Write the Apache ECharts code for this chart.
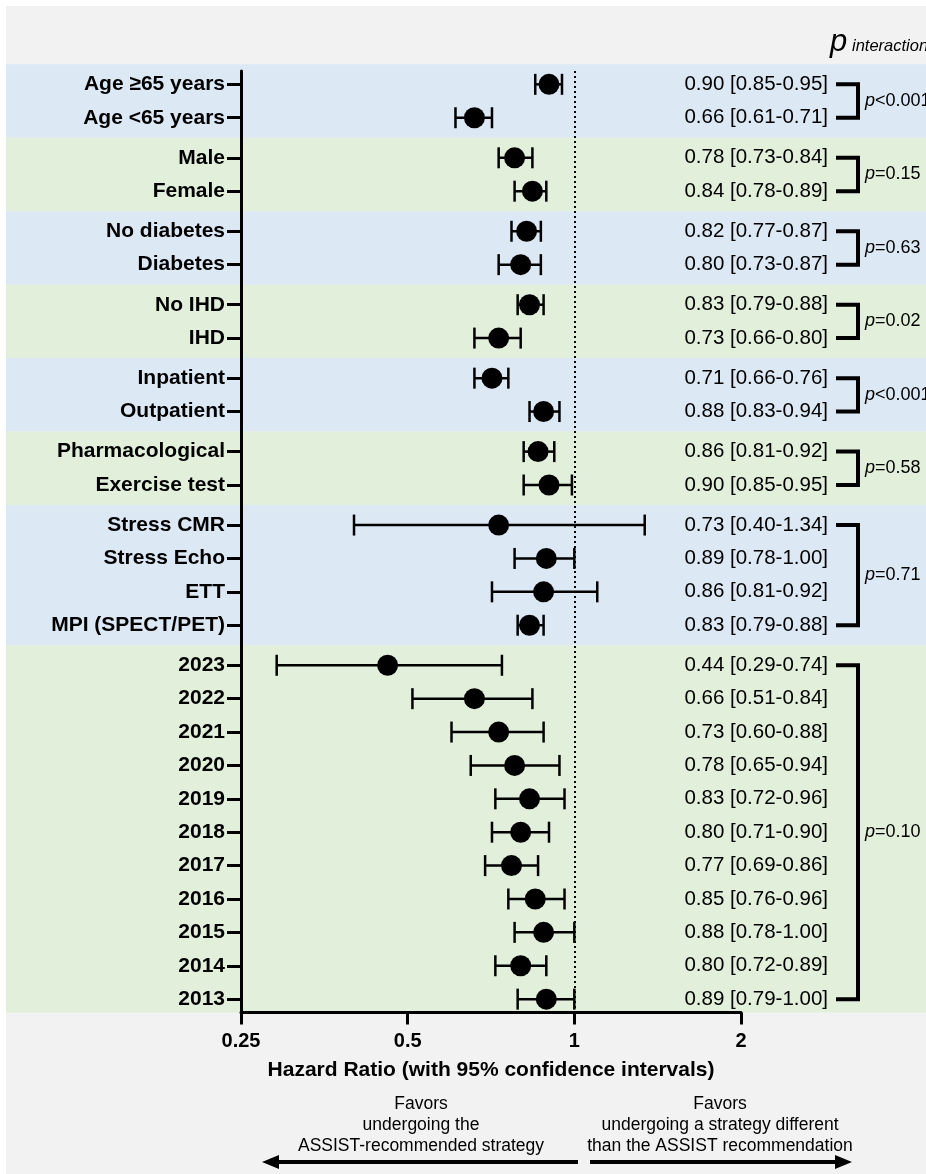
<!DOCTYPE html>
<html><head><meta charset="utf-8">
<script src="https://cdn.jsdelivr.net/npm/echarts@6/dist/echarts.min.js"></script>
<style>html,body{margin:0;padding:0;background:#fff}#c{width:926px;height:1174px}</style>
</head><body><div id="c"></div>
<script>
// ---------------- DATA ----------------
const labels = ['Age \u226565 years','Age <65 years','Male','Female','No diabetes','Diabetes','No IHD','IHD',
  'Inpatient','Outpatient','Pharmacological','Exercise test','Stress CMR','Stress Echo','ETT','MPI (SPECT/PET)',
  '2023','2022','2021','2020','2019','2018','2017','2016','2015','2014','2013'];
const hr = [0.90,0.66,0.78,0.84,0.82,0.80,0.83,0.73,0.71,0.88,0.86,0.90,0.73,0.89,0.88,0.83,
  0.46,0.66,0.73,0.78,0.83,0.80,0.77,0.85,0.88,0.80,0.89];
const lo = [0.85,0.61,0.73,0.78,0.77,0.73,0.79,0.66,0.66,0.83,0.81,0.81,0.40,0.78,0.71,0.79,
  0.29,0.51,0.60,0.65,0.72,0.71,0.69,0.76,0.78,0.72,0.79];
const hi = [0.95,0.71,0.84,0.89,0.87,0.87,0.88,0.80,0.76,0.94,0.92,0.99,1.34,1.00,1.10,0.88,
  0.74,0.84,0.88,0.94,0.96,0.90,0.86,0.96,1.00,0.89,1.00];
const hrText = ['0.90 [0.85-0.95]','0.66 [0.61-0.71]','0.78 [0.73-0.84]','0.84 [0.78-0.89]','0.82 [0.77-0.87]',
  '0.80 [0.73-0.87]','0.83 [0.79-0.88]','0.73 [0.66-0.80]','0.71 [0.66-0.76]','0.88 [0.83-0.94]',
  '0.86 [0.81-0.92]','0.90 [0.85-0.95]','0.73 [0.40-1.34]','0.89 [0.78-1.00]','0.86 [0.81-0.92]',
  '0.83 [0.79-0.88]','0.44 [0.29-0.74]','0.66 [0.51-0.84]','0.73 [0.60-0.88]','0.78 [0.65-0.94]',
  '0.83 [0.72-0.96]','0.80 [0.71-0.90]','0.77 [0.69-0.86]','0.85 [0.76-0.96]','0.88 [0.78-1.00]',
  '0.80 [0.72-0.89]','0.89 [0.79-1.00]'];
const groupSizes = [2,2,2,2,2,2,4,11];
const pValues = ['<0.001','=0.15','=0.63','=0.02','<0.001','=0.58','=0.71','=0.10'];
const xTicks = [0.25,0.5,1,2];
const axisTitle = 'Hazard Ratio (with 95% confidence intervals)';
const leftNote = 'Favors\nundergoing the\nASSIST-recommended strategy';
const rightNote = 'Favors\nundergoing a strategy different\nthan the ASSIST recommendation';

// ---------------- LAYOUT / STYLE ----------------
const GAP = 0.2, BAND_PAD = 0.6, Y_MIN = -0.4, Y_MAX = 27.8;
const FONT = '"Liberation Sans", Arial, Helvetica, sans-serif';
const BLUE = '#dde8f5', GREEN = '#e2efda', PANEL = '#f2f2f2';
const PANEL_LEFT = 6, PANEL_TOP = 6;
const TEXT_RIGHT = 828, BR_X0 = 836, BR_X1 = 858, P_X = 865;

// row positions
const pos = []; const groups = [];
{ let i = 0; groupSizes.forEach((n, g) => { const first = i; for (let k = 0; k < n; k++) { pos.push(i + GAP * g); i++; } groups.push([first, i - 1]); }); }

const chart = echarts.init(document.getElementById('c'), null, {renderer: 'canvas'});

const bandData = groups.map((gr, g) => [pos[gr[0]] - BAND_PAD, g === groups.length - 1 ? Y_MAX : pos[gr[1]] + BAND_PAD, g]);
const bracketData = groups.map((gr, g) => [pos[gr[0]], pos[gr[1]], g]);

const option = {
  backgroundColor: '#ffffff',
  animation: false,
  textStyle: {fontFamily: FONT},
  grid: {left: 241, right: 185, top: 71, bottom: 1174 - 1012.5, containLabel: false},
  xAxis: {
    type: 'log', logBase: 2, min: xTicks[0], max: xTicks[xTicks.length - 1],
    axisLine: {show: true, onZero: false, lineStyle: {color: '#000', width: 3}},
    axisTick: {show: true, length: 12, lineStyle: {color: '#000', width: 3}},
    axisLabel: {color: '#000', fontWeight: 'bold', fontSize: 20, margin: 19, fontFamily: FONT,
      formatter: v => String(+v.toFixed(2))},
    splitLine: {show: false}, minorTick: {show: false},
    name: axisTitle, nameLocation: 'middle', nameGap: 47,
    nameTextStyle: {color: '#000', fontWeight: 'bold', fontSize: 21, fontFamily: FONT}
  },
  yAxis: {
    type: 'value', inverse: true, min: Y_MIN, max: Y_MAX,
    axisLine: {show: true, onZero: false, lineStyle: {color: '#000', width: 3}},
    axisTick: {show: true, length: 14, customValues: pos, lineStyle: {color: '#000', width: 3}},
    axisLabel: {show: true, customValues: pos, margin: 16, color: '#000', fontWeight: 'bold', fontSize: 21, fontFamily: FONT,
      formatter: v => { const i = pos.findIndex(p => Math.abs(p - v) < 1e-6); return i >= 0 ? labels[i] : ''; }},
    splitLine: {show: false}
  },
  graphic: [
    {type: 'rect', z: -100, shape: {x: PANEL_LEFT, y: PANEL_TOP, width: 926 - PANEL_LEFT, height: 1174 - PANEL_TOP}, style: {fill: PANEL}},
    {type: 'text', z: 10, x: 830, y: 58, style: {text: 'p', fontSize: 31, fontStyle: 'italic', fontFamily: FONT, fill: '#000', verticalAlign: 'bottom'}},
    {type: 'text', z: 10, x: 852, y: 55, style: {text: 'interaction', fontSize: 16.5, fontStyle: 'italic', fontFamily: FONT, fill: '#000', verticalAlign: 'bottom'}},
    {type: 'text', z: 10, x: 421, y: 1094, style: {text: leftNote, fontSize: 17.5, lineHeight: 21, fontFamily: FONT, fill: '#000', align: 'center', verticalAlign: 'top'}},
    {type: 'text', z: 10, x: 720, y: 1094, style: {text: rightNote, fontSize: 17.5, lineHeight: 21, fontFamily: FONT, fill: '#000', align: 'center', verticalAlign: 'top'}},
    {type: 'line', z: 10, shape: {x1: 578, y1: 1162, x2: 276, y2: 1162}, style: {stroke: '#000', lineWidth: 4}},
    {type: 'polygon', z: 10, shape: {points: [[262, 1162], [279, 1155], [279, 1169]]}, style: {fill: '#000'}},
    {type: 'line', z: 10, shape: {x1: 590, y1: 1162, x2: 838, y2: 1162}, style: {stroke: '#000', lineWidth: 4}},
    {type: 'polygon', z: 10, shape: {points: [[852, 1162], [835, 1155], [835, 1169]]}, style: {fill: '#000'}}
  ],
  series: [
    { // background bands
      type: 'custom', z: -1, clip: false, silent: true,
      data: bandData,
      renderItem: (params, api) => {
        const y1 = api.coord([1, api.value(0)])[1];
        const y2 = api.coord([1, api.value(1)])[1];
        const g = api.value(2);
        return {type: 'rect', shape: {x: PANEL_LEFT, y: y1, width: api.getWidth() - PANEL_LEFT, height: y2 - y1},
          style: {fill: g % 2 === 0 ? BLUE : GREEN}};
      }
    },
    { // error bars
      type: 'custom', z: 3, clip: false, silent: true,
      data: labels.map((l, i) => [lo[i], hi[i], pos[i]]),
      encode: {x: [0, 1], y: 2},
      renderItem: (params, api) => {
        const a = api.coord([api.value(0), api.value(2)]);
        const b = api.coord([api.value(1), api.value(2)]);
        const s = {stroke: '#000', lineWidth: 2.5};
        const h = 10.5;
        return {type: 'group', children: [
          {type: 'line', shape: {x1: a[0], y1: a[1], x2: b[0], y2: b[1]}, style: s},
          {type: 'line', shape: {x1: a[0], y1: a[1] - h, x2: a[0], y2: a[1] + h}, style: s},
          {type: 'line', shape: {x1: b[0], y1: b[1] - h, x2: b[0], y2: b[1] + h}, style: s}
        ]};
      }
    },
    { // point estimates
      type: 'scatter', z: 4, silent: true, symbol: 'circle', symbolSize: 21,
      itemStyle: {color: '#000', opacity: 1},
      data: hr.map((v, i) => [v, pos[i]]),
      markLine: {silent: true, symbol: 'none', label: {show: false},
        lineStyle: {color: '#000', width: 2, type: [2, 3], opacity: 1},
        data: [{xAxis: 1}]}
    },
    { // HR text column
      type: 'custom', z: 5, clip: false, silent: true,
      data: hrText.map((t, i) => [pos[i], i]),
      encode: {y: 0},
      renderItem: (params, api) => {
        const y = api.coord([1, api.value(0)])[1];
        return {type: 'text', x: TEXT_RIGHT, y: y,
          style: {text: hrText[api.value(1)], fontSize: 20.5, fontFamily: FONT, fill: '#000', align: 'right', verticalAlign: 'middle'}};
      }
    },
    { // brackets + p values
      type: 'custom', z: 5, clip: false, silent: true,
      data: bracketData,
      encode: {y: [0, 1]},
      renderItem: (params, api) => {
        const y1 = api.coord([1, api.value(0)])[1];
        const y2 = api.coord([1, api.value(1)])[1];
        const g = api.value(2);
        return {type: 'group', children: [
          {type: 'polyline', shape: {points: [[BR_X0, y1], [BR_X1, y1], [BR_X1, y2], [BR_X0, y2]]},
            style: {stroke: '#000', lineWidth: 4, fill: null}},
          {type: 'text', x: P_X, y: (y1 + y2) / 2,
            style: {text: '{i|p}{n|' + pValues[g] + '}', verticalAlign: 'middle', align: 'left',
              rich: {i: {fontSize: 18, fontStyle: 'italic', fontFamily: FONT, fill: '#000'},
                     n: {fontSize: 18, fontFamily: FONT, fill: '#000'}}}}
        ]};
      }
    }
  ]
};
chart.setOption(option);
</script>
</body></html>
